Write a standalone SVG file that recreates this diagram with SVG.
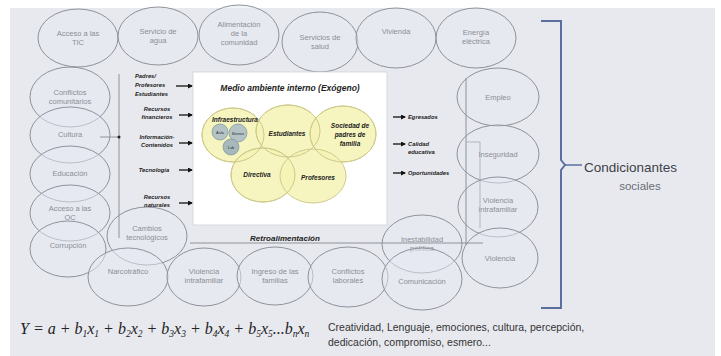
<svg xmlns="http://www.w3.org/2000/svg" width="721" height="356" viewBox="0 0 721 356">
<defs>
<style>
.ell{fill:#e6e9f1;fill-opacity:0.5;stroke:#8d929c;stroke-width:1}
.et{font-family:"Liberation Sans",Arial,sans-serif;font-size:7.5px;fill:#8b8f97;text-anchor:middle}
.yc{fill:#f5f3b4;fill-opacity:0.85;stroke:#cfcb8c;stroke-width:1}
.yt{font-family:"Liberation Sans",Arial,sans-serif;font-size:6.5px;font-weight:bold;font-style:italic;fill:#222;text-anchor:middle}
.lb{font-family:"Liberation Sans",Arial,sans-serif;font-size:5.8px;font-weight:bold;font-style:italic;fill:#222}
.ar{stroke:#111;stroke-width:1.3;fill:none;marker-end:url(#ah)}
.gl{stroke:#8d929c;stroke-width:1;fill:none}
</style>
<marker id="ah" markerWidth="5" markerHeight="5" refX="4" refY="2.5" orient="auto" markerUnits="userSpaceOnUse">
<path d="M0,0 L5,2.5 L0,5 Z" fill="#111"/>
</marker>
</defs>
<rect width="721" height="356" fill="#ffffff"/>
<rect x="10" y="8" width="705" height="348" fill="#e8e9ef"/>

<g id="ellipses">
<g id="n-acceso-tic"><ellipse class="ell" cx="78" cy="38" rx="40" ry="29"/><text class="et" x="78" y="36">Acceso a las</text><text class="et" x="78" y="45">TIC</text></g>
<g id="n-agua"><ellipse class="ell" cx="158" cy="36" rx="40" ry="29"/><text class="et" x="158" y="34">Servicio de</text><text class="et" x="158" y="43">agua</text></g>
<g id="n-alimentacion"><ellipse class="ell" cx="239" cy="35" rx="40" ry="30"/><text class="et" x="239" y="27">Alimentación</text><text class="et" x="239" y="36">de la</text><text class="et" x="239" y="45">comunidad</text></g>
<g id="n-salud"><ellipse class="ell" cx="320" cy="42" rx="38" ry="30"/><text class="et" x="320" y="40">Servicios de</text><text class="et" x="320" y="49">salud</text></g>
<g id="n-vivienda"><ellipse class="ell" cx="396" cy="38" rx="40" ry="30"/><text class="et" x="396" y="34">Vivienda</text></g>
<g id="n-energia"><ellipse class="ell" cx="476" cy="38" rx="40" ry="30"/><text class="et" x="476" y="35">Energía</text><text class="et" x="476" y="44">eléctrica</text></g>

<g id="n-conflictos-com"><ellipse class="ell" cx="70" cy="97" rx="40" ry="30"/><text class="et" x="70" y="95">Conflictos</text><text class="et" x="70" y="104">comunitarios</text></g>
<g id="n-cultura"><ellipse class="ell" cx="70" cy="135" rx="40" ry="28"/><text class="et" x="70" y="137">Cultura</text></g>
<g id="n-educacion"><ellipse class="ell" cx="70" cy="174" rx="40" ry="28"/><text class="et" x="70" y="176">Educación</text></g>
<g id="n-acceso-oc"><ellipse class="ell" cx="70" cy="213" rx="40" ry="28"/><text class="et" x="70" y="211">Acceso a las</text><text class="et" x="70" y="220">OC</text></g>
<g id="n-corrupcion"><ellipse class="ell" cx="68" cy="249" rx="38" ry="28"/><text class="et" x="68" y="248">Corrupción</text></g>

<g id="n-cambios"><ellipse class="ell" cx="147" cy="236" rx="40" ry="29"/><text class="et" x="147" y="231">Cambios</text><text class="et" x="147" y="240">tecnológicos</text></g>
<g id="n-narco"><ellipse class="ell" cx="128" cy="277" rx="40" ry="29"/><text class="et" x="128" y="274">Narcotráfico</text></g>
<g id="n-viol-intra1"><ellipse class="ell" cx="204" cy="277" rx="37" ry="29"/><text class="et" x="204" y="274">Violencia</text><text class="et" x="204" y="283">intrafamiliar</text></g>
<g id="n-ingreso"><ellipse class="ell" cx="275" cy="276" rx="38" ry="29"/><text class="et" x="275" y="274">Ingreso de las</text><text class="et" x="275" y="283">familias</text></g>
<g id="n-conf-lab"><ellipse class="ell" cx="348" cy="277" rx="40" ry="30"/><text class="et" x="348" y="274">Conflictos</text><text class="et" x="348" y="283">laborales</text></g>
<g id="n-inestab"><ellipse class="ell" cx="422" cy="244" rx="40" ry="29"/><text class="et" x="422" y="242">Inestabilidad</text><text class="et" x="422" y="251">política</text></g>
<g id="n-comunic"><ellipse class="ell" cx="422" cy="279" rx="40" ry="31"/><text class="et" x="422" y="284">Comunicación</text></g>

<g id="n-empleo"><ellipse class="ell" cx="498" cy="97" rx="41" ry="29"/><text class="et" x="498" y="100">Empleo</text></g>
<g id="n-inseg"><ellipse class="ell" cx="498" cy="154" rx="41" ry="29"/><text class="et" x="498" y="157">Inseguridad</text></g>
<g id="n-viol-intra2"><ellipse class="ell" cx="498" cy="207" rx="40" ry="30"/><text class="et" x="498" y="203">Violencia</text><text class="et" x="498" y="212">intrafamiliar</text></g>
<g id="n-violencia"><ellipse class="ell" cx="500" cy="258" rx="38" ry="30"/><text class="et" x="500" y="261">Violencia</text></g>
</g>

<g id="connectors">
<path class="gl" d="M119,74 V238"/>
<path class="gl" d="M466,78 V245"/>
<path class="gl" d="M190,243 H483"/>
<path class="gl" d="M100,137 H119"/>
<circle cx="119" cy="137" r="1.5" fill="#222"/>
<path d="M466,142 H480 V228" fill="none" stroke="#a3a7b0" stroke-width="0.8"/>
<line class="ar" x1="176" y1="86" x2="192" y2="86"/>
<line class="ar" x1="179" y1="115" x2="192" y2="115"/>
<line class="ar" x1="179" y1="143" x2="192" y2="143"/>
<line class="ar" x1="179" y1="170" x2="192" y2="170"/>
<line class="ar" x1="179" y1="203" x2="192" y2="203"/>
<line class="ar" x1="393" y1="117" x2="405" y2="117"/>
<line class="ar" x1="393" y1="144" x2="405" y2="144"/>
<line class="ar" x1="393" y1="173" x2="405" y2="173"/>
</g>

<g id="labels-in">
<text class="lb" x="135" y="78">Padres/</text>
<text class="lb" x="135" y="87">Profesores</text>
<text class="lb" x="135" y="96">Estudiantes</text>
<text class="lb" x="157" y="111" text-anchor="middle">Recursos</text>
<text class="lb" x="157" y="119" text-anchor="middle">financieros</text>
<text class="lb" x="157" y="139" text-anchor="middle">Información-</text>
<text class="lb" x="157" y="147" text-anchor="middle">Contenidos</text>
<text class="lb" x="154" y="172" text-anchor="middle">Tecnología</text>
<text class="lb" x="157" y="199" text-anchor="middle">Recursos</text>
<text class="lb" x="157" y="207" text-anchor="middle">naturales</text>
</g>

<g id="internal-box">
<rect x="193" y="72" width="194" height="153" fill="#ffffff" stroke="#cfd1d6" stroke-width="0.8"/>
<text x="290" y="91" font-family="Liberation Sans, Arial, sans-serif" font-size="8.5" font-weight="bold" font-style="italic" fill="#222" text-anchor="middle">Medio ambiente interno (Exógeno)</text>
<g id="n-infra"><ellipse class="yc" cx="233" cy="135" rx="31" ry="27"/></g>
<g id="n-estud"><ellipse class="yc" cx="288" cy="131" rx="32" ry="26"/></g>
<g id="n-sociedad"><ellipse class="yc" cx="343" cy="134" rx="33" ry="28"/></g>
<g id="n-directiva"><ellipse class="yc" cx="263" cy="175" rx="32" ry="27"/></g>
<g id="n-profes"><ellipse class="yc" cx="313" cy="176" rx="33" ry="27"/></g>
<ellipse cx="233" cy="135" rx="31" ry="27" fill="none" stroke="#cfcb8c"/>
<ellipse cx="288" cy="131" rx="32" ry="26" fill="none" stroke="#cfcb8c"/>
<ellipse cx="343" cy="134" rx="33" ry="28" fill="none" stroke="#cfcb8c"/>
<ellipse cx="263" cy="175" rx="32" ry="27" fill="none" stroke="#cfcb8c"/>
<g id="small-circles">
<circle cx="220" cy="132" r="8" fill="#b3c3c6" stroke="#7f9297" stroke-width="0.7"/>
<circle cx="238" cy="133" r="9" fill="#b3c3c6" stroke="#7f9297" stroke-width="0.7"/>
<circle cx="231" cy="147" r="8" fill="#a7b9bd" stroke="#7f9297" stroke-width="0.7"/>
<text x="220" y="134" font-family="Liberation Sans, Arial, sans-serif" font-size="4" fill="#333" text-anchor="middle">Aula</text>
<text x="238" y="135" font-family="Liberation Sans, Arial, sans-serif" font-size="4" fill="#333" text-anchor="middle">Bienes</text>
<text x="231" y="149" font-family="Liberation Sans, Arial, sans-serif" font-size="4" fill="#333" text-anchor="middle">Lab</text>
</g>
<text class="yt" x="235" y="122">Infraestructura</text>
<text class="yt" x="287" y="136">Estudiantes</text>
<text class="yt" x="350" y="128">Sociedad de</text>
<text class="yt" x="350" y="137">padres de</text>
<text class="yt" x="350" y="146">familia</text>
<text class="yt" x="257" y="177">Directiva</text>
<text class="yt" x="318" y="180">Profesores</text>
</g>

<g id="labels-out">
<text class="lb" x="408" y="119">Egresados</text>
<text class="lb" x="408" y="146">Calidad</text>
<text class="lb" x="408" y="154">educativa</text>
<text class="lb" x="408" y="175">Oportunidades</text>
<text x="285" y="241" font-family="Liberation Sans, Arial, sans-serif" font-size="8" font-weight="bold" font-style="italic" fill="#222" text-anchor="middle">Retroalimentación</text>
</g>

<g id="bracket">
<path d="M541,21 H561 V160 L565,165 L561,170 V308 H541" fill="none" stroke="#5b6ea0" stroke-width="2"/>
<path d="M565,165 H582" fill="none" stroke="#5b6ea0" stroke-width="1.5"/>
<text x="584" y="172" font-family="Liberation Sans, Arial, sans-serif" font-size="13.5" fill="#3c3f47">Condicionantes</text>
<text x="640" y="190" font-family="Liberation Sans, Arial, sans-serif" font-size="11.5" fill="#6a6d75" text-anchor="middle">sociales</text>
</g>

<g id="formula">
<text x="20" y="334" font-family="Liberation Serif, Times New Roman, serif" font-size="16" font-style="italic" fill="#222">Y = a + b<tspan font-size="9.5" dy="3">1</tspan><tspan dy="-3">x</tspan><tspan font-size="9.5" dy="3">1</tspan><tspan dy="-3"> + b</tspan><tspan font-size="9.5" dy="3">2</tspan><tspan dy="-3">x</tspan><tspan font-size="9.5" dy="3">2</tspan><tspan dy="-3"> + b</tspan><tspan font-size="9.5" dy="3">3</tspan><tspan dy="-3">x</tspan><tspan font-size="9.5" dy="3">3</tspan><tspan dy="-3"> + b</tspan><tspan font-size="9.5" dy="3">4</tspan><tspan dy="-3">x</tspan><tspan font-size="9.5" dy="3">4</tspan><tspan dy="-3"> + b</tspan><tspan font-size="9.5" dy="3">5</tspan><tspan dy="-3">x</tspan><tspan font-size="9.5" dy="3">5</tspan><tspan dy="-3">...b</tspan><tspan font-size="9.5" dy="3">n</tspan><tspan dy="-3">x</tspan><tspan font-size="9.5" dy="3">n</tspan></text>
<text x="328" y="331" font-family="Liberation Sans, Arial, sans-serif" font-size="10.5" fill="#333">Creatividad, Lenguaje, emociones, cultura, percepción,</text>
<text x="328" y="346" font-family="Liberation Sans, Arial, sans-serif" font-size="10.5" fill="#333">dedicación, compromiso, esmero...</text>
</g>
</svg>
